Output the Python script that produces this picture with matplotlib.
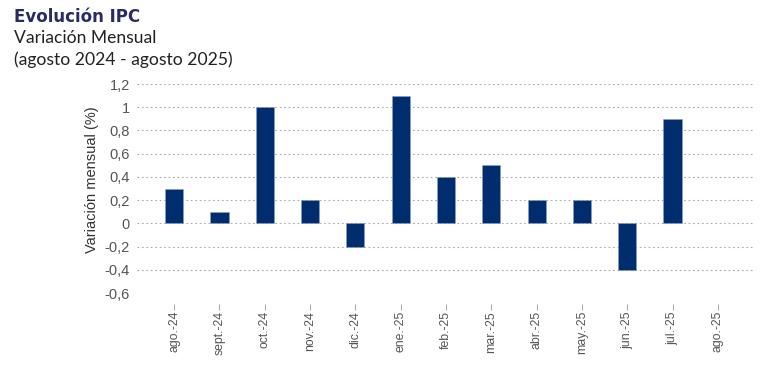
import matplotlib
matplotlib.use("Agg")
import matplotlib.pyplot as plt
import numpy as np

categories = ["ago.-24", "sept.-24", "oct.-24", "nov.-24", "dic.-24", "ene.-25",
              "feb.-25", "mar.-25", "abr.-25", "may.-25", "jun.-25", "jul.-25", "ago.-25"]
values = [0.3, 0.1, 1.0, 0.2, -0.2, 1.1, 0.4, 0.5, 0.2, 0.2, -0.4, 0.9, np.nan]
yticks = [-0.6, -0.4, -0.2, 0, 0.2, 0.4, 0.6, 0.8, 1.0, 1.2]
ytick_labels = ["-0,6", "-0,4", "-0,2", "0", "0,2", "0,4", "0,6", "0,8", "1", "1,2"]

fig = plt.figure(figsize=(7.71, 3.65), dpi=100)
ax = fig.add_axes([137/771, 1-293/365, (755-137)/771, (293-84)/365])
for s in ax.spines.values():
    s.set_visible(False)
ax.spines["bottom"].set_position(("outward", 8))

x = np.arange(len(categories))
ax.bar(x, values, width=0.4, color="#002D6E", edgecolor="#8fa3c4", linewidth=0.4, zorder=3)

ax.set_xlim(-0.82, len(categories) - 1 + 0.82)
ax.set_ylim(-0.6, 1.2)
ax.set_yticks(yticks)
ax.set_yticklabels(ytick_labels, fontsize=10.5, color="#555555", family="Liberation Sans")
ax.set_xticks(x)
ax.set_xticklabels(categories, rotation=90, fontsize=8.8, color="#555555", family="Liberation Sans")
ax.tick_params(axis="y", length=0, pad=5)
ax.tick_params(axis="x", length=4, width=0.6, color="#999999", pad=1)
ax.grid(axis="y", color="#aaaaaa", linestyle=(0, (1.5, 2.5)), linewidth=0.8, zorder=0)
ax.set_axisbelow(True)
ax.set_ylabel("Variación mensual (%)", fontsize=10.5, color="#333333", family="Liberation Sans")
ax.yaxis.set_label_coords(-0.062, 0.54)

fig.text(14/771, 1-17/365, "Evolución IPC", fontsize=12, fontweight="bold", color="#2B2A62",
         family="DejaVu Sans", va="center", ha="left")
fig.text(14/771, 1-38/365, "Variación Mensual", fontsize=12.6, color="#222222",
         family="Lato", va="center", ha="left")
fig.text(14/771, 1-60/365, "(agosto 2024 - agosto 2025)", fontsize=12.6, color="#222222",
         family="Lato", va="center", ha="left")

fig.savefig("out.png", dpi=100)
